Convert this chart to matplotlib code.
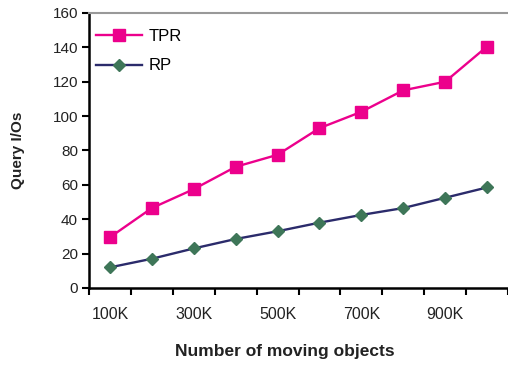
import numpy as np
import matplotlib
matplotlib.use("Agg")
from matplotlib import pyplot as plt

# data
categories = ["100K", "200K", "300K", "400K", "500K", "600K", "700K", "800K", "900K", "1000K"]
tpr = [29.5, 46.5, 57.5, 70.5, 77.5, 93, 102.5, 115, 120, 140.5]
rp = [12, 17, 23, 28.5, 33, 38, 42.5, 46.5, 52.5, 58.5]

plt.rcParams['font.family'] = ['Liberation Sans', 'DejaVu Sans']

fig = plt.figure(figsize=(5.08, 3.65), dpi=100)
ax = fig.add_axes([0.1752, 0.211, 0.8248, 0.7534])

x = np.arange(len(categories))
ax.plot(x, tpr, color='#EC008C', lw=1.7, marker='s', ms=8,
        markerfacecolor='#EC008C', markeredgecolor='#EC008C', label='TPR')
ax.plot(x, rp, color='#2B2B6B', lw=1.7, marker='D', ms=6.3,
        markerfacecolor='#3E7658', markeredgecolor='#3E7658', label='RP')

ax.set_xlim(-0.5, len(categories) - 0.5)
ax.set_ylim(0, 160)
ax.set_yticks(np.arange(0, 161, 20))

# category ticks sit between points, labels on every other category
ax.set_xticks(np.arange(-0.5, len(categories) - 0.4, 1))
ax.set_xticklabels([])
ax.set_xticks(x[::2], minor=True)
ax.set_xticklabels(categories[::2], minor=True)
ax.tick_params(axis='x', which='minor', length=0, pad=14, labelsize=11.5, colors='#222222')
ax.tick_params(axis='x', which='major', length=5, width=1.5, direction='out')
ax.tick_params(axis='y', length=5, width=1.5, direction='out', labelsize=11,
               labelcolor='#222222', pad=3)

for s in ['left', 'bottom']:
    ax.spines[s].set_linewidth(1.8)
    ax.spines[s].set_color('black')
ax.spines['right'].set_visible(False)
ax.spines['top'].set_color('#999999')
ax.spines['top'].set_linewidth(1.5)

ax.set_ylabel('Query I/Os', fontsize=11, fontweight='bold', labelpad=20, color='#222222')
ax.set_xlabel('Number of moving objects', fontsize=12.5, fontweight='bold', color='#222222')
ax.xaxis.set_label_coords(0.468, -0.205)

ax.legend(loc='upper left', frameon=False, fontsize=12, handlelength=2.75,
          handletextpad=0.4, labelspacing=0.85, borderaxespad=0,
          bbox_to_anchor=(0.0, 0.965))

fig.savefig('out.png', dpi=100)
